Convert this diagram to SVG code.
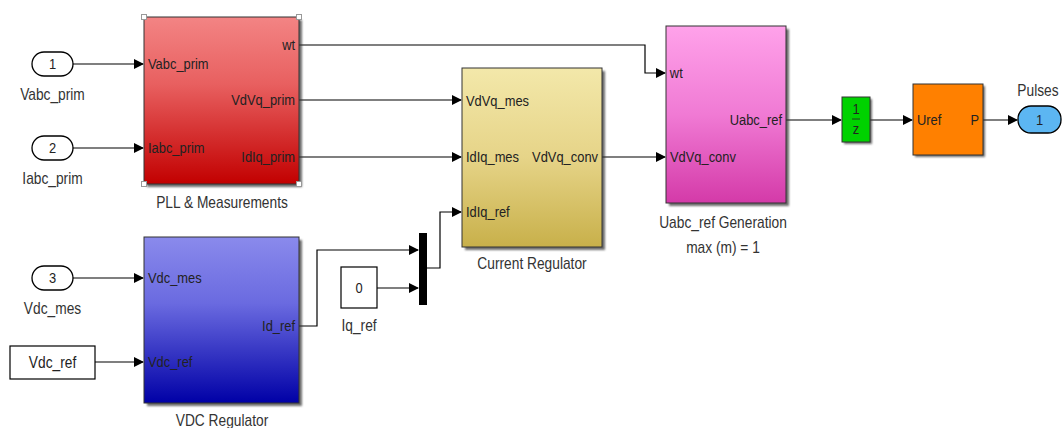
<svg xmlns="http://www.w3.org/2000/svg" width="1064" height="428" viewBox="0 0 1064 428">
<style>
text{font-family:"Liberation Sans",Arial,sans-serif;font-size:15px;fill:#222;transform-box:fill-box;transform-origin:left center;transform:scaleX(0.86)}
.lbl{fill:#333;font-size:16px}
.mid{text-anchor:middle;transform-origin:center}
.end{text-anchor:end;transform-origin:right center}
.wire{fill:none;stroke:#000;stroke-width:1.2}
.shadow{fill:#333;opacity:0.7;filter:url(#blur)}
.blk{stroke:#333;stroke-width:1}
.port{fill:#fff;stroke:#000;stroke-width:1.3}
.hdl{fill:#fff;stroke:#999;stroke-width:1}
</style>
<defs>
<filter id="blur" x="-10%" y="-10%" width="120%" height="120%"><feGaussianBlur stdDeviation="1.3"/></filter>
<marker id="arr" markerWidth="10" markerHeight="10" refX="9" refY="5" orient="auto" markerUnits="userSpaceOnUse">
<path d="M0,0 L10,5 L0,10 Z" fill="#000"/>
</marker>
<linearGradient id="gRed" x1="0" y1="0" x2="0" y2="1"><stop offset="0" stop-color="#f38484"/><stop offset="0.4" stop-color="#e86060"/><stop offset="1" stop-color="#c20000"/></linearGradient>
<linearGradient id="gBlue" x1="0" y1="0" x2="0" y2="1"><stop offset="0" stop-color="#8a8aec"/><stop offset="0.4" stop-color="#6a6ae0"/><stop offset="1" stop-color="#0000a6"/></linearGradient>
<linearGradient id="gYel" x1="0" y1="0" x2="0" y2="1"><stop offset="0" stop-color="#f3e8aa"/><stop offset="0.5" stop-color="#e6d488"/><stop offset="1" stop-color="#c8b04a"/></linearGradient>
<linearGradient id="gPink" x1="0" y1="0" x2="0" y2="1"><stop offset="0" stop-color="#ffa2ea"/><stop offset="0.5" stop-color="#f07ad4"/><stop offset="1" stop-color="#d43aa8"/></linearGradient>
</defs>

<g id="connectors">
<path class="wire" d="M73,64 H143" marker-end="url(#arr)"/>
<path class="wire" d="M73,148 H143" marker-end="url(#arr)"/>
<path class="wire" d="M73,278 H143" marker-end="url(#arr)"/>
<path class="wire" d="M95,362 H143" marker-end="url(#arr)"/>
<path class="wire" d="M299,45 H645 V73 H665" marker-end="url(#arr)"/>
<path class="wire" d="M299,100 H461" marker-end="url(#arr)"/>
<path class="wire" d="M299,157 H461" marker-end="url(#arr)"/>
<path class="wire" d="M299,326 H317 V250 H418" marker-end="url(#arr)"/>
<path class="wire" d="M377,288 H418" marker-end="url(#arr)"/>
<path class="wire" d="M427,268 H440 V212 H461" marker-end="url(#arr)"/>
<path class="wire" d="M602,157 H665" marker-end="url(#arr)"/>
<path class="wire" d="M786,120 H841" marker-end="url(#arr)"/>
<path class="wire" d="M870,120 H912" marker-end="url(#arr)"/>
<path class="wire" d="M983,120 H1017" marker-end="url(#arr)"/>
</g>

<g id="in1">
<rect class="port" x="32" y="52" width="41" height="24" rx="12"/>
<text class="mid" x="52.5" y="69.5">1</text>
<text class="lbl mid" x="52.5" y="100">Vabc_prim</text>
</g>
<g id="in2">
<rect class="port" x="32" y="136" width="41" height="24" rx="12"/>
<text class="mid" x="52.5" y="153.5">2</text>
<text class="lbl mid" x="52.5" y="184">Iabc_prim</text>
</g>
<g id="in3">
<rect class="port" x="32" y="266" width="41" height="24" rx="12"/>
<text class="mid" x="52.5" y="283.5">3</text>
<text class="lbl mid" x="52.5" y="314">Vdc_mes</text>
</g>
<g id="vdcref">
<rect x="10" y="346" width="85" height="33" fill="#fff" stroke="#000" stroke-width="1.2"/>
<text class="mid" x="52.5" y="368" style="font-size:16px">Vdc_ref</text>
</g>

<g id="pll">
<rect class="shadow" x="147" y="20" width="155" height="167"/>
<rect class="blk" x="144" y="17" width="155" height="167" fill="url(#gRed)"/>
<rect class="hdl" x="141.5" y="14.5" width="5" height="5"/>
<rect class="hdl" x="296.5" y="14.5" width="5" height="5"/>
<rect class="hdl" x="141.5" y="181.5" width="5" height="5"/>
<rect class="hdl" x="296.5" y="181.5" width="5" height="5"/>
<text x="148" y="69.5">Vabc_prim</text>
<text x="148" y="153.5">Iabc_prim</text>
<text class="end" x="295" y="50.5">wt</text>
<text class="end" x="295" y="105.5">VdVq_prim</text>
<text class="end" x="295" y="162.5">IdIq_prim</text>
<text class="lbl mid" x="222" y="208">PLL &amp; Measurements</text>
</g>

<g id="vdc">
<rect class="shadow" x="147" y="240" width="155" height="166"/>
<rect class="blk" x="144" y="237" width="155" height="166" fill="url(#gBlue)"/>
<text x="148" y="283.5">Vdc_mes</text>
<text x="148" y="367.5">Vdc_ref</text>
<text class="end" x="295" y="331.5">Id_ref</text>
<text class="lbl mid" x="222" y="426">VDC Regulator</text>
</g>

<g id="iqref">
<rect x="341" y="267" width="36" height="41" fill="#fff" stroke="#000" stroke-width="1.2"/>
<text class="mid" x="359" y="293.5">0</text>
<text class="lbl mid" x="359" y="331">Iq_ref</text>
</g>

<g id="mux">
<rect x="419" y="233" width="8" height="72" fill="#000"/>
</g>

<g id="current">
<rect class="shadow" x="465" y="71" width="140" height="179"/>
<rect class="blk" x="462" y="68" width="140" height="179" fill="url(#gYel)"/>
<text x="466" y="106.5">VdVq_mes</text>
<text x="466" y="162.5">IdIq_mes</text>
<text x="466" y="217.5">IdIq_ref</text>
<text class="end" x="598" y="162.5">VdVq_conv</text>
<text class="lbl mid" x="532" y="269">Current Regulator</text>
</g>

<g id="uabc">
<rect class="shadow" x="669" y="29" width="120" height="177"/>
<rect class="blk" x="666" y="26" width="120" height="177" fill="url(#gPink)"/>
<text x="670" y="78.5">wt</text>
<text x="670" y="162.5">VdVq_conv</text>
<text class="end" x="782" y="125.5">Uabc_ref</text>
<text class="lbl mid" x="723" y="228">Uabc_ref Generation</text>
<text class="lbl mid" x="723" y="253">max (m) = 1</text>
</g>

<g id="delay">
<rect class="shadow" x="844" y="99" width="28" height="45"/>
<rect class="blk" x="842" y="97" width="28" height="45" fill="#00d200"/>
<text class="mid" x="856" y="114" style="font-size:15px">1</text>
<line x1="852" y1="119" x2="860" y2="119" stroke="#222" stroke-width="0.8"/>
<text class="mid" x="856" y="134" style="font-size:15px">z</text>
</g>

<g id="pwm">
<rect class="shadow" x="915" y="86" width="70" height="71"/>
<rect class="blk" x="913" y="84" width="70" height="71" fill="#ff8000"/>
<text x="917" y="125.5">Uref</text>
<text class="end" x="979" y="125.5">P</text>
</g>

<g id="out1">
<rect x="1018" y="106" width="43" height="27" rx="13" fill="#5cb6f2" stroke="#000" stroke-width="1.3"/>
<text class="mid" x="1039.5" y="125">1</text>
<text class="lbl mid" x="1038" y="96">Pulses</text>
</g>
</svg>
